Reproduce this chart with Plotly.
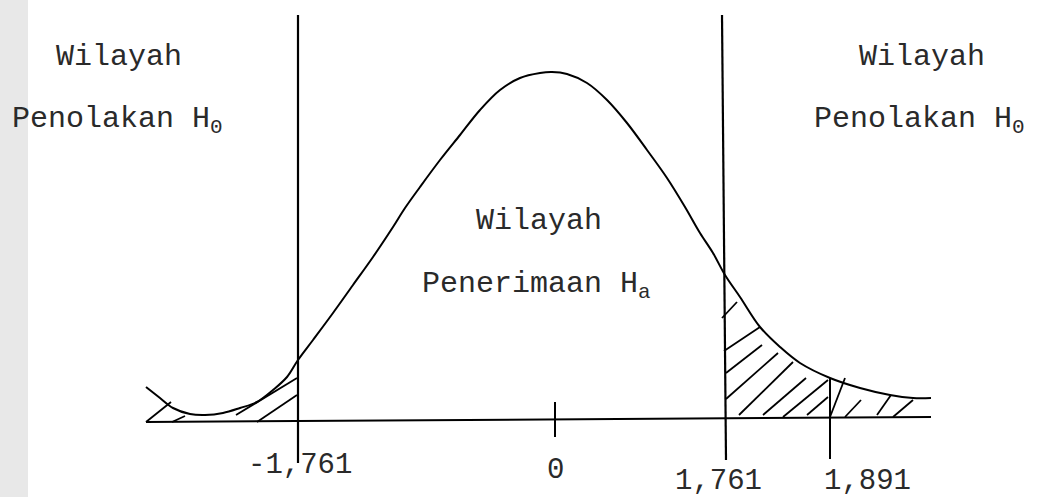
import plotly.graph_objects as go

# Kurva (skema, koordinat gambar)
curve_x = [146, 160, 173, 190, 205, 223, 240, 257, 273, 287, 298, 313, 333, 353, 373, 393, 405,
           420, 440, 460, 480, 500, 520, 540, 552, 567, 587, 607, 627, 647, 667, 685,
           700, 713, 725, 740, 760, 780, 800, 830, 860, 890, 913, 931]
curve_y = [387, 398, 408, 414, 415, 413, 408, 402, 390, 377, 360, 340, 313, 285, 257, 227, 208,
           187, 160, 135, 110, 90, 78, 73, 72, 74, 83, 100, 123, 150, 178, 207,
           233, 253, 275, 297, 327, 347, 363, 378, 388, 395, 398, 398]

# sumbu horizontal
axis_x = [146, 931]
axis_y = [422, 417]

# garis batas kritis
crit_left_x = [298, 298]
crit_left_y = [15, 463]
crit_right_x = [722, 726]
crit_right_y = [15, 460]
t_hit_x = [830, 830]
t_hit_y = [378, 459]
zero_x = [555, 555]
zero_y = [402, 437]

# arsiran
hatch_x0 = [146, 172, 236, 257, 722, 724, 726, 726, 739, 763, 783, 807, 830, 845, 877, 893]
hatch_y0 = [422, 422, 415, 422, 318, 351, 373, 399, 415, 415, 417, 415, 417, 417, 415, 417]
hatch_x1 = [171, 185, 297, 297, 737, 760, 762, 778, 793, 806, 828, 828, 845, 861, 891, 913]
hatch_y1 = [402, 416, 378, 395, 302, 327, 345, 353, 362, 378, 380, 397, 378, 400, 395, 400]

# label
tick_text = ["-1,761", "0", "1,761", "1,891"]
tick_x = [300, 555, 718, 867]
tick_y = [465, 470, 481, 481]

region_text = ["Wilayah", "Penolakan H<sub>0</sub>", "Wilayah", "Penolakan H<sub>0</sub>",
               "Wilayah", "Penerimaan H<sub>a</sub>"]
region_x = [119, 10, 922, 812, 539, 420]
region_y = [57, 120, 57, 120, 221, 285]
region_anchor = ["center", "left", "center", "left", "center", "left"]

FONT = "Courier New, Liberation Mono, monospace"
BLACK = "#000000"
TEXT = "#2a2a2a"

fig = go.Figure()

# strip abu-abu di kiri
fig.add_shape(type="rect", x0=0, x1=28, y0=0, y1=497, xref="x", yref="y",
              fillcolor="#e8e8e8", line_width=0, layer="below")


def seg(x, y, w=2, shape="linear"):
    fig.add_trace(go.Scatter(x=x, y=y, mode="lines",
                             line=dict(color=BLACK, width=w, shape=shape),
                             hoverinfo="skip", showlegend=False))


seg(curve_x, curve_y, 2, "spline")
seg(axis_x, axis_y, 2)
seg(crit_left_x, crit_left_y, 2.2)
seg(crit_right_x, crit_right_y, 2.2)
seg(t_hit_x, t_hit_y, 2)
seg(zero_x, zero_y, 2)

hx, hy = [], []
for a, b, c, d in zip(hatch_x0, hatch_y0, hatch_x1, hatch_y1):
    hx += [a, c, None]
    hy += [b, d, None]
seg(hx, hy, 1.8)

for t, x, y in zip(tick_text, tick_x, tick_y):
    fig.add_annotation(x=x, y=y, text=t, showarrow=False, xanchor="center", yanchor="middle",
                       borderpad=0, font=dict(family=FONT, size=29, color=TEXT))

for t, x, y, a in zip(region_text, region_x, region_y, region_anchor):
    fig.add_annotation(x=x, y=y, text=t, showarrow=False, xanchor=a, yanchor="middle",
                       font=dict(family=FONT, size=30, color=TEXT))

fig.update_xaxes(range=[0, 1038], visible=False, fixedrange=True)
fig.update_yaxes(range=[497, 0], visible=False, fixedrange=True)
fig.update_layout(width=1038, height=497, margin=dict(l=0, r=0, t=0, b=0),
                  plot_bgcolor="white", paper_bgcolor="white", showlegend=False)

fig.write_html("out.html", config={"displayModeBar": False},
               post_script="document.body.style.margin='0';")
